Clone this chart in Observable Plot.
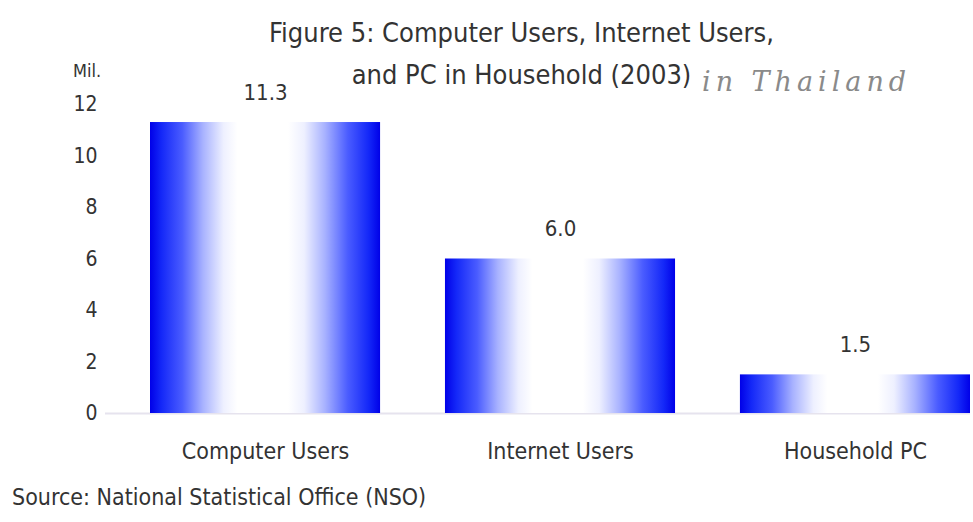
<!DOCTYPE html>
<html>
<head>
<meta charset="utf-8">
<script src="https://cdn.jsdelivr.net/npm/d3@7"></script>
<script src="https://cdn.jsdelivr.net/npm/@observablehq/plot@0.6"></script>
<style>
  body { margin: 0; background: #fff; }
  #wrap { position: relative; width: 973px; height: 522px; overflow: hidden; background: #fff;
          font-family: "DejaVu Sans Condensed", "DejaVu Sans", sans-serif; color: #333; }
  #wrap svg { position: absolute; left: 0; top: 0; }
  .abs { position: absolute; white-space: nowrap; }
  #title { left: 0; width: 1043px; top: 12px; text-align: center; font-size: 27px; line-height: 42px; }
  #unit { left: 73px; top: 60px; font-size: 18px; }
  #note { left: 702px; top: 66px; font-size: 27px; font-style: italic; color: #8a8a8a; letter-spacing: 5px; font-family: "DejaVu Serif", serif; font-weight: 200; }
  #source { left: 12px; top: 484px; font-size: 23px; }
</style>
</head>
<body>
<div id="wrap">
  <div id="chart"></div>
  <div class="abs" id="title">Figure 5: Computer Users, Internet Users,<br>and PC in Household (2003)</div>
  <div class="abs" id="unit">Mil.</div>
  <div class="abs" id="note">in Thailand</div>
  <div class="abs" id="source">Source: National Statistical Office (NSO)</div>
</div>
<script>
const categories = ["Computer Users", "Internet Users", "Household PC"];
const values = [11.3, 6.0, 1.5];
const yTicks = [0, 2, 4, 6, 8, 10, 12];

const data = categories.map((c, i) => ({category: c, value: values[i]}));

const chart = Plot.plot({
  width: 973,
  height: 522,
  marginTop: 104,
  marginBottom: 109,
  marginLeft: 105,
  marginRight: 3,
  style: {background: "transparent", fontFamily: "\"DejaVu Sans Condensed\", \"DejaVu Sans\", sans-serif", color: "#333"},
  x: {domain: categories, range: [150, 970], paddingInner: 0.22, paddingOuter: 0, round: false, label: null},
  y: {domain: [0, 12], label: null},
  marks: [
    Plot.ruleY([0], {stroke: "#e6e3ee", strokeWidth: 2}),
    Plot.barY(data, {x: "category", y: "value", fill: "url(#barGrad)"}),
    Plot.text(data, {x: "category", y: "value", text: d => d.value.toFixed(1), dy: -30, fontSize: 22, fill: "#333"}),
    Plot.axisX({tickSize: 0, tickPadding: 29, fontSize: 23, label: null}),
    Plot.axisY({ticks: yTicks, tickSize: 0, tickPadding: 8, fontSize: 21, label: null})
  ]
});

const defs = d3.select(chart).insert("defs", ":first-child");
const g = defs.append("linearGradient").attr("id", "barGrad").attr("x1", "0").attr("x2", "1").attr("y1", "0").attr("y2", "0");
[
  [0, "#0000e8"], [0.05, "#1428f8"], [0.14, "#4a5cff"], [0.23, "#a8b2ff"], [0.32, "#eef0ff"], [0.38, "#ffffff"],
  [0.6, "#ffffff"], [0.67, "#eef0ff"], [0.76, "#a8b2ff"], [0.86, "#4a5cff"], [0.95, "#1428f8"], [1, "#0000e8"]
].forEach(([o, c]) => g.append("stop").attr("offset", o).attr("stop-color", c));

document.getElementById("chart").appendChild(chart);
</script>
</body>
</html>
